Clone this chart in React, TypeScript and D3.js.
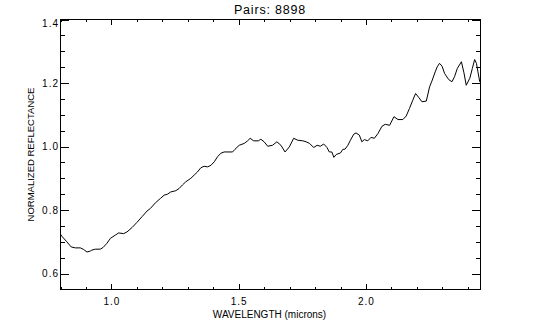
import React, { useEffect, useRef } from 'react';
import * as d3 from 'd3';

// spectrum (microns, normalized reflectance)
const wavelength = [
  0.800, 0.805, 0.825, 0.842, 0.858, 0.878, 0.891, 0.904, 0.917, 0.923,
  0.937, 0.956, 0.967, 0.982, 0.996, 1.015, 1.028, 1.048, 1.061, 1.081,
  1.100, 1.120, 1.140, 1.153, 1.173, 1.193, 1.207, 1.220, 1.233, 1.253,
  1.266, 1.279, 1.292, 1.312, 1.325, 1.338, 1.351, 1.364, 1.378, 1.391,
  1.404, 1.417, 1.430, 1.443, 1.476, 1.485, 1.502, 1.522, 1.535, 1.545,
  1.559, 1.577, 1.587, 1.600, 1.614, 1.633, 1.650, 1.666, 1.682, 1.699,
  1.716, 1.732, 1.752, 1.765, 1.778, 1.795, 1.808, 1.821, 1.834, 1.847,
  1.856, 1.866, 1.874, 1.883, 1.900, 1.909, 1.918, 1.929, 1.939, 1.952,
  1.961, 1.974, 1.984, 1.994, 2.007, 2.020, 2.033, 2.047, 2.063, 2.076,
  2.093, 2.110, 2.126, 2.145, 2.158, 2.171, 2.184, 2.195, 2.207, 2.220,
  2.237, 2.250, 2.259, 2.272, 2.280, 2.289, 2.299, 2.309, 2.325, 2.338,
  2.348, 2.359, 2.375, 2.385, 2.394, 2.408, 2.418, 2.427, 2.434, 2.440,
  2.447, 2.450,
];

const reflectance = [
  0.724, 0.718, 0.700, 0.684, 0.681, 0.681, 0.676, 0.668, 0.671, 0.674,
  0.677, 0.677, 0.682, 0.695, 0.711, 0.721, 0.728, 0.726, 0.731, 0.745,
  0.761, 0.779, 0.797, 0.805, 0.823, 0.837, 0.847, 0.850, 0.857, 0.861,
  0.868, 0.879, 0.889, 0.900, 0.910, 0.920, 0.933, 0.938, 0.936, 0.941,
  0.952, 0.968, 0.979, 0.983, 0.983, 0.991, 1.004, 1.010, 1.018, 1.026,
  1.018, 1.018, 1.023, 1.015, 1.001, 1.004, 1.015, 1.004, 0.983, 0.999,
  1.026, 1.020, 1.018, 1.015, 1.010, 0.997, 1.004, 1.001, 1.008, 0.997,
  0.983, 0.983, 0.966, 0.975, 0.980, 0.991, 0.992, 1.004, 1.020, 1.039,
  1.043, 1.036, 1.015, 1.022, 1.018, 1.029, 1.026, 1.041, 1.064, 1.070,
  1.067, 1.094, 1.085, 1.085, 1.096, 1.120, 1.146, 1.167, 1.155, 1.141,
  1.143, 1.188, 1.206, 1.235, 1.251, 1.262, 1.253, 1.230, 1.211, 1.204,
  1.220, 1.246, 1.267, 1.232, 1.193, 1.215, 1.246, 1.274, 1.262, 1.235,
  1.204, 1.204,
];

const xMajorTicks = [1.0, 1.5, 2.0];
const yMajorTicks = [0.6, 0.8, 1.0, 1.2, 1.4];
const title = 'Pairs: 8898';
const xLabel = 'WAVELENGTH (microns)';
const yLabel = 'NORMALIZED REFLECTANCE';

const W = 540;
const H = 330;
const FONT = '"Liberation Sans", Arial, sans-serif';

const App = () => {
  const svgRef = useRef<SVGSVGElement>(null);

  useEffect(() => {
    const svg = d3.select(svgRef.current);
    svg.selectAll('*').remove();

    const left = 60.5, right = 480.5, top = 19.5, bottom = 289.5;

    const x = d3.scaleLinear().domain([0.8, 2.45]).range([left, right]);
    const y = d3.scaleLinear().domain([0.55, 1.4]).range([bottom, top]);

    const xMinor = d3.range(8, 25)
      .map(v => v / 10)
      .filter(v => !xMajorTicks.some(m => Math.abs(m - v) < 1e-6));
    const yMinor = d3.range(12, 29)
      .map(v => v / 20)
      .filter(v => !yMajorTicks.some(m => Math.abs(m - v) < 1e-6));

    const fmt = d3.format('.1f');

    const styleAxis = (g, labels) => {
      g.select('.domain').remove();
      g.selectAll('line')
        .attr('stroke', '#000')
        .attr('shape-rendering', 'crispEdges');
      g.selectAll('text')
        .attr('fill', '#000')
        .style('font-family', FONT)
        .style('font-size', '10px')
        .style('letter-spacing', '1px');
      if (!labels) g.selectAll('text').remove();
    };

    // bottom
    svg.append('g')
      .attr('transform', `translate(0,${bottom})`)
      .call(d3.axisBottom(x).tickValues(xMajorTicks).tickSize(-5.4).tickPadding(8).tickFormat(fmt))
      .call(g => styleAxis(g, true));
    svg.append('g')
      .attr('transform', `translate(0,${bottom})`)
      .call(d3.axisBottom(x).tickValues(xMinor).tickSize(-2.7).tickFormat(() => ''))
      .call(g => styleAxis(g, false));

    // top
    svg.append('g')
      .attr('transform', `translate(0,${top})`)
      .call(d3.axisTop(x).tickValues(xMajorTicks).tickSize(-5.4))
      .call(g => styleAxis(g, false));
    svg.append('g')
      .attr('transform', `translate(0,${top})`)
      .call(d3.axisTop(x).tickValues(xMinor).tickSize(-2.7))
      .call(g => styleAxis(g, false));

    // left
    const yAxisG = svg.append('g')
      .attr('transform', `translate(${left},0)`)
      .call(d3.axisLeft(y).tickValues(yMajorTicks).tickSize(-8.4).tickPadding(1.5).tickFormat(fmt))
      .call(g => styleAxis(g, true));
    yAxisG.selectAll('text')
      .filter(d => Math.abs(d - 1.4) < 1e-6)
      .attr('dy', '0.72em');
    svg.append('g')
      .attr('transform', `translate(${left},0)`)
      .call(d3.axisLeft(y).tickValues(yMinor).tickSize(-4.2))
      .call(g => styleAxis(g, false));

    // right
    svg.append('g')
      .attr('transform', `translate(${right},0)`)
      .call(d3.axisRight(y).tickValues(yMajorTicks).tickSize(-8.4))
      .call(g => styleAxis(g, false));
    svg.append('g')
      .attr('transform', `translate(${right},0)`)
      .call(d3.axisRight(y).tickValues(yMinor).tickSize(-4.2))
      .call(g => styleAxis(g, false));

    // frame
    svg.append('rect')
      .attr('x', left)
      .attr('y', top)
      .attr('width', right - left)
      .attr('height', bottom - top)
      .attr('fill', 'none')
      .attr('stroke', '#000')
      .attr('shape-rendering', 'crispEdges');

    const line = d3.line<number>()
      .x((d, i) => x(wavelength[i]))
      .y(d => y(d));

    svg.append('path')
      .datum(reflectance)
      .attr('d', line)
      .attr('fill', 'none')
      .attr('stroke', '#000')
      .attr('stroke-width', 1)
      .attr('stroke-linejoin', 'round');

    svg.append('text')
      .attr('x', 270)
      .attr('y', 14)
      .attr('text-anchor', 'middle')
      .style('font-family', FONT)
      .style('font-size', '12.5px')
      .style('letter-spacing', '0.8px')
      .text(title);

    svg.append('text')
      .attr('x', 269.5)
      .attr('y', 318)
      .attr('text-anchor', 'middle')
      .style('font-family', FONT)
      .style('font-size', '10px')
      .text(xLabel);

    svg.append('text')
      .attr('transform', 'translate(33.5,154.5) rotate(-90)')
      .attr('text-anchor', 'middle')
      .style('font-family', FONT)
      .style('font-size', '9.5px')
      .text(yLabel);
  }, []);

  return (
    <div style={{ position: 'fixed', left: 0, top: 0, width: W, height: H, background: '#fff' }}>
      <svg ref={svgRef} width={W} height={H} style={{ display: 'block', background: '#fff' }} />
    </div>
  );
};

export default App;
